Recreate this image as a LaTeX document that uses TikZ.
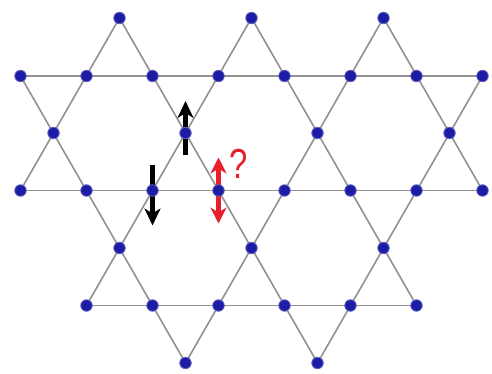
\documentclass[tikz,border=0pt]{standalone}
\usepackage{fontspec}
\newfontfamily\qfont{Liberation Sans}
\usetikzlibrary{arrows.meta,backgrounds}
\definecolor{sitecol}{RGB}{28,28,165}
\definecolor{bondcol}{RGB}{145,145,145}
\definecolor{spinred}{RGB}{232,32,44}
\pgfdeclarelayer{bonds}
\pgfdeclarelayer{spins}
\pgfsetlayers{bonds,spins,main}
\tikzset{
  site/.style={circle,fill=sitecol,draw=sitecol!70!white,line width=0.8pt,minimum size=11.5pt,inner sep=0pt},
  bond/.style={draw=bondcol,line width=1.6pt},
  spinup/.style={draw=black,line width=4.6pt,-{Stealth[length=17pt,width=16pt,inset=5pt]}},
  spindown/.style={draw=black,line width=4.6pt,-{Stealth[length=17pt,width=16pt,inset=5pt]}},
  spinq/.style={draw=spinred,line width=4.6pt,{Stealth[length=16pt,width=16pt,inset=5pt]}-{Stealth[length=16pt,width=16pt,inset=5pt]}},
  qmark/.style={text=spinred,font=\qfont\fontsize{42}{42}\selectfont,inner sep=0pt,xscale=0.78}
}
\begin{document}
\begin{tikzpicture}[x=1pt,y=-1pt]
\useasboundingbox (0,0) rectangle (492,374);
% row A
\node[site] (a1) at (119.5,18) {};
\node[site] (a2) at (251.5,18) {};
\node[site] (a3) at (383.5,18) {};
% row B
\node[site] (b1) at (20.5,76) {};
\node[site] (b2) at (86.5,76) {};
\node[site] (b3) at (152.5,76) {};
\node[site] (b4) at (218.5,76) {};
\node[site] (b5) at (284.5,76) {};
\node[site] (b6) at (350.5,76) {};
\node[site] (b7) at (416.5,76) {};
\node[site] (b8) at (482.5,76) {};
% row C
\node[site] (c1) at (53.5,133) {};
\node[site] (c2) at (185.5,133) {};
\node[site] (c3) at (317.5,133) {};
\node[site] (c4) at (449.5,133) {};
% row D
\node[site] (d1) at (20.5,190.5) {};
\node[site] (d2) at (86.5,190.5) {};
\node[site] (d3) at (152.5,190.5) {};
\node[site] (d4) at (218.5,190.5) {};
\node[site] (d5) at (284.5,190.5) {};
\node[site] (d6) at (350.5,190.5) {};
\node[site] (d7) at (416.5,190.5) {};
\node[site] (d8) at (482.5,190.5) {};
% row E
\node[site] (e1) at (119.5,248) {};
\node[site] (e2) at (251.5,248) {};
\node[site] (e3) at (383.5,248) {};
% row F
\node[site] (f1) at (86.5,305.5) {};
\node[site] (f2) at (152.5,305.5) {};
\node[site] (f3) at (218.5,305.5) {};
\node[site] (f4) at (284.5,305.5) {};
\node[site] (f5) at (350.5,305.5) {};
\node[site] (f6) at (416.5,305.5) {};
% row G
\node[site] (g1) at (185.5,363) {};
\node[site] (g2) at (317.5,363) {};
% question mark
\node[qmark] (q) at (239,164) {?};
\begin{pgfonlayer}{bonds}
  \draw[bond] (b1.center) -- (b8.center);
  \draw[bond] (d1.center) -- (d8.center);
  \draw[bond] (f1.center) -- (f6.center);
  \draw[bond] (a1.center) -- (d1.center);
  \draw[bond] (a1.center) -- (g2.center);
  \draw[bond] (a2.center) -- (f1.center);
  \draw[bond] (a2.center) -- (f6.center);
  \draw[bond] (a3.center) -- (g1.center);
  \draw[bond] (a3.center) -- (d8.center);
  \draw[bond] (b1.center) -- (g1.center);
  \draw[bond] (b8.center) -- (g2.center);
\end{pgfonlayer}
\begin{pgfonlayer}{spins}
  \draw[spinup] ([yshift=-22pt]c2.center) -- ([yshift=32pt]c2.center);
  \draw[spindown] ([yshift=25pt]d3.center) -- ([yshift=-35pt]d3.center);
  \draw[spinq] ([yshift=33pt]d4.center) -- ([yshift=-33pt]d4.center);
\end{pgfonlayer}
\end{tikzpicture}
\end{document}
